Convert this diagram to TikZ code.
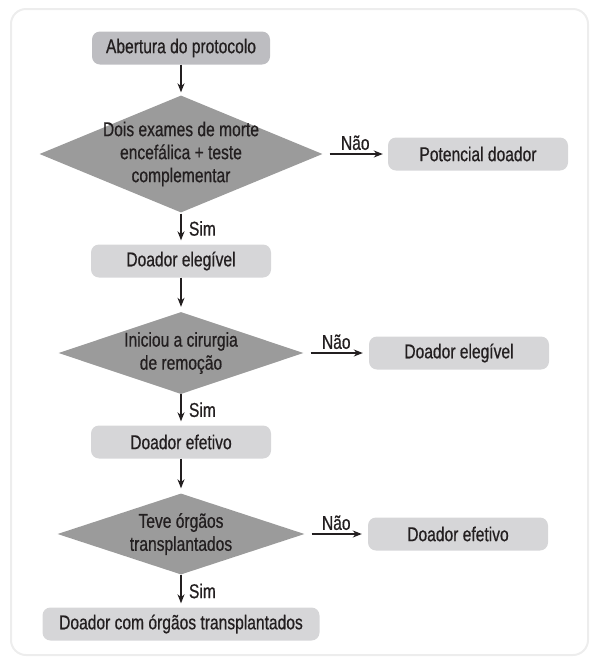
\documentclass[tikz,border=0pt]{standalone}
\usepackage{fontspec}
\setmainfont{Liberation Sans}[FakeStretch=0.78,FakeBold=0.6]
\usetikzlibrary{arrows.meta,positioning,shapes.geometric}
\definecolor{boxgray}{HTML}{D6D6D8}
\definecolor{topgray}{HTML}{BDBDC1}
\definecolor{diagray}{HTML}{9B9B9B}
\definecolor{inkblack}{HTML}{231F20}

\begin{document}
\begin{tikzpicture}[
  x=1pt, y=-1pt,
  >={Stealth[length=9pt,width=7pt]},
  font=\fontsize{20}{23}\selectfont,
  text=inkblack,
  stagebox/.style={fill=boxgray, rounded corners=8pt, minimum width=180pt,
                   minimum height=33pt, inner sep=0pt},
  decision/.style={diamond, fill=diagray, inner sep=0pt},
  question/.style={align=center, inner sep=0pt},
  flow/.style={->, line width=1.3pt, draw=inkblack},
  yes/.style={right, xshift=4pt},
]
  \useasboundingbox (0,0) rectangle (590,657);
  % outer frame
  \draw[black!7, line width=2pt, rounded corners=15pt] (11,9) rectangle (588,655);

  % main column
  \node[stagebox, fill=topgray, minimum width=178pt] (open) at (181,48)
    {Abertura do protocolo};
  \node[decision, minimum width=283pt, minimum height=117pt,
        label={[question]center:Dois exames de morte\\encefálica + teste\\complementar}]
    (brain) at (181,154) {};
  \node[stagebox] (eligible) at (181,261) {Doador elegível};
  \node[decision, minimum width=245pt, minimum height=82pt,
        label={[question]center:Iniciou a cirurgia\\de remoção}]
    (surgery) at (181,353) {};
  \node[stagebox] (effective) at (181,442) {Doador efetivo};
  \node[decision, minimum width=247pt, minimum height=81pt,
        label={[question]center:Teve órgãos\\transplantados}]
    (organs) at (181,534) {};
  \node[stagebox, minimum width=277pt] (transplanted) at (181,624)
    {Doador com órgãos transplantados};

  % side outcomes
  \node[stagebox] (potential) at (478,154) {Potencial doador};
  \node[stagebox] (eligible2) at (459,353) {Doador elegível};
  \node[stagebox] (effective2) at (458,534) {Doador efetivo};

  % yes path
  \draw[flow, shorten >=3pt] (open) -- (brain.north);
  \draw[flow, shorten <=1pt, shorten >=4pt] (brain.south) --
    node[yes] {Sim} (eligible.north);
  \draw[flow, shorten >=5pt] (eligible.south) -- (surgery.north);
  \draw[flow, shorten >=4pt] (surgery.south) --
    node[yes] {Sim} (effective.north);
  \draw[flow, shorten >=5pt] (effective.south) -- (organs.north);
  \draw[flow, shorten >=4pt] (organs.south) --
    node[yes] {Sim} (transplanted.north);

  % no path
  \draw[flow, shorten <=7pt, shorten >=5pt] (brain.east) --
    node[above] {Não} (potential.west);
  \draw[flow, shorten <=7pt, shorten >=6pt] (surgery.east) --
    node[above] {Não} (eligible2.west);
  \draw[flow, shorten <=7pt, shorten >=6pt] (organs.east) --
    node[above] {Não} (effective2.west);
\end{tikzpicture}
\end{document}
